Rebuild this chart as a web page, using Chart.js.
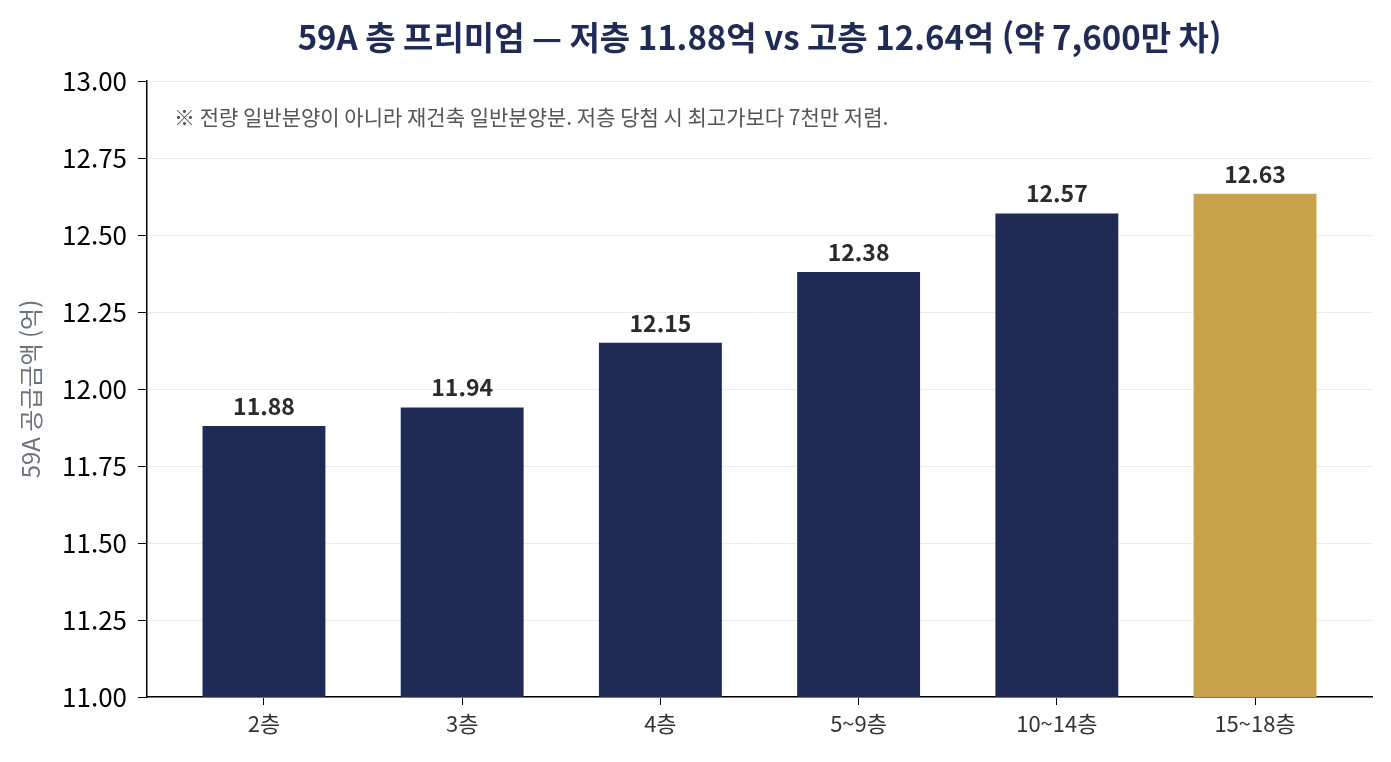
<!DOCTYPE html>
<html lang="ko">
<head>
<meta charset="utf-8">
<script src="https://cdn.jsdelivr.net/npm/chart.js@4"></script>
<style>
  html, body { margin: 0; padding: 0; background: #fff; }
  #wrap { width: 1391px; height: 762px; }
</style>
</head>
<body>
<div id="wrap"><canvas id="chart" width="1391" height="762"></canvas></div>
<script>
const FONT = "'Noto Sans CJK KR', 'Noto Sans', sans-serif";

const TITLE = "59A 층 프리미엄 — 저층 11.88억 vs 고층 12.64억 (약 7,600만 차)";
const NOTE = "※ 전량 일반분양이 아니라 재건축 일반분양분. 저층 당첨 시 최고가보다 7천만 저렴.";

const categories = ["2층", "3층", "4층", "5~9층", "10~14층", "15~18층"];
const prices = [11.88, 11.94, 12.15, 12.38, 12.57, 12.634];
const barColors = ["#1f2a55", "#1f2a55", "#1f2a55", "#1f2a55", "#1f2a55", "#c7a24b"];
const yTicks = [11.00, 11.25, 11.50, 11.75, 12.00, 12.25, 12.50, 12.75, 13.00];

// ======================
// PLUGINS
// ======================

const extras = {
  id: "extras",
  afterDatasetsDraw(chart) {
    const { ctx, chartArea } = chart;
    const meta = chart.getDatasetMeta(0);
    ctx.save();

    // valores acima das barras
    ctx.font = "bold 23px " + FONT;
    ctx.fillStyle = "#2b2b2b";
    ctx.textAlign = "center";
    ctx.textBaseline = "alphabetic";
    meta.data.forEach((bar, i) => {
      ctx.fillText(prices[i].toFixed(2), bar.x, bar.y - 11);
    });

    // nota
    ctx.font = "21px " + FONT;
    ctx.fillStyle = "#555";
    ctx.textAlign = "left";
    ctx.textBaseline = "middle";
    ctx.fillText(NOTE, chartArea.left + 27, chartArea.top + 36);

    // titulo
    ctx.font = "bold 33px " + FONT;
    ctx.fillStyle = "#1f2a55";
    ctx.textAlign = "center";
    ctx.fillText(TITLE, (chartArea.left + chartArea.right) / 2, 37);

    ctx.restore();
  }
};

// ======================
// CHART
// ======================

new Chart(document.getElementById("chart"), {
  type: "bar",
  data: {
    datasets: [{
      data: prices.map((v, i) => ({ x: i, y: v })),
      backgroundColor: barColors,
      barPercentage: 0.62,
      categoryPercentage: 1
    }]
  },
  options: {
    responsive: false,
    animation: false,
    layout: { padding: { top: 81, right: 19, left: 0, bottom: 0 } },
    plugins: {
      legend: { display: false },
      tooltip: { enabled: false }
    },
    scales: {
      x: {
        type: "linear",
        offset: false,
        min: -0.59,
        max: 5.59,
        afterBuildTicks: s => { s.ticks = categories.map((_, i) => ({ value: i })); },
        afterFit: s => { s.height = 65; },
        ticks: {
          callback: v => categories[v],
          font: { family: FONT, size: 22 },
          color: "#333",
          padding: 5,
          autoSkip: false,
          maxRotation: 0
        },
        grid: { offset: false, drawOnChartArea: false, drawTicks: true, tickLength: 8, tickColor: "#000" },
        border: { display: true, color: "#000", width: 1.5 }
      },
      y: {
        min: 11,
        max: 13,
        afterBuildTicks: s => { s.ticks = yTicks.map(v => ({ value: v })); },
        afterFit: s => { s.width = 147; },
        ticks: {
          callback: v => v.toFixed(2),
          font: { family: FONT, size: 26 },
          color: "#000",
          padding: 11
        },
        grid: { color: "#ececec", lineWidth: 1, tickLength: 9, tickColor: "#000" },
        border: { display: true, color: "#000", width: 1.5 },
        title: {
          display: true,
          text: "59A 공급금액 (억)",
          font: { family: FONT, size: 24 },
          color: "#6b7280",
          padding: { top: 16, bottom: 0 }
        }
      }
    }
  },
  plugins: [extras]
});
</script>
</body>
</html>
